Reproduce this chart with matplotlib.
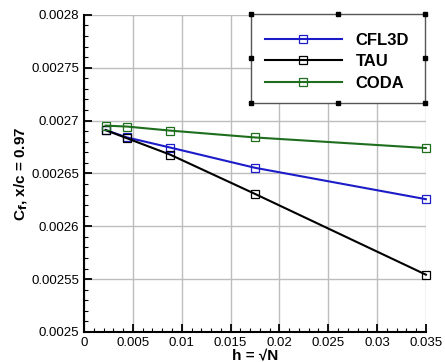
import matplotlib
matplotlib.use("Agg")
import matplotlib.pyplot as plt
from matplotlib.patches import Rectangle
from matplotlib.ticker import MultipleLocator, FuncFormatter

plt.rcParams['font.family'] = ['Liberation Sans', 'DejaVu Sans']

h = [0.0022, 0.0044, 0.0088, 0.0175, 0.035]
cfl3d = [0.002691, 0.002684, 0.0026745, 0.0026553, 0.0026256]
tau = [0.002691, 0.0026832, 0.0026678, 0.0026306, 0.0025542]
coda = [0.0026952, 0.0026943, 0.0026905, 0.002684, 0.002674]

series = [("CFL3D", cfl3d, "#1c1cc8"), ("TAU", tau, "black"), ("CODA", coda, "#1e6e1e")]

fig = plt.figure(figsize=(4.45, 3.62), dpi=100)
ax = fig.add_axes([0.189, 0.083, 0.768, 0.876])

for name, vals, col in series:
    ax.plot(h, vals, color=col, lw=1.5, marker="s", ms=6, mfc="none",
            mec=col, mew=0.9, label=name, clip_on=False, zorder=3)

ax.set_xlim(0, 0.035)
ax.set_ylim(0.0025, 0.0028)
ax.xaxis.set_major_locator(MultipleLocator(0.005))
ax.xaxis.set_minor_locator(MultipleLocator(0.001))
ax.yaxis.set_major_locator(MultipleLocator(0.00005))
ax.yaxis.set_minor_locator(MultipleLocator(0.00001))
fmt = FuncFormatter(lambda v, p: "%g" % round(v, 6))
ax.xaxis.set_major_formatter(fmt)
ax.yaxis.set_major_formatter(fmt)
ax.tick_params(which="both", direction="in", top=False, right=False, labelsize=9.5)
ax.tick_params(which="major", length=6, width=1.3)
ax.tick_params(which="minor", length=3, width=0.8)
ax.grid(True, which="major", color="#bdbdbd", lw=1)
ax.set_axisbelow(True)
for s in ["top", "right"]:
    ax.spines[s].set_visible(False)
for s in ["left", "bottom"]:
    ax.spines[s].set_linewidth(1.5)

ax.set_xlabel("h = \u221aN", fontsize=11, fontweight="bold", labelpad=0)
ax.set_ylabel(r"C$_\mathbf{f}$, x/c = 0.97", fontsize=11, fontweight="bold", labelpad=1)

# legend box with tecplot-like selection handles
x0, x1, y0, y1 = 0.488, 0.997, 0.722, 1.003
ax.add_patch(Rectangle((x0, y0), x1 - x0, y1 - y0, transform=ax.transAxes,
                       fc="white", ec="#555555", lw=1, zorder=5, clip_on=False))
hx = [x0, (x0 + x1) / 2, x1, x0, x1, x0, (x0 + x1) / 2, x1]
hy = [y1, y1, y1, (y0 + y1) / 2, (y0 + y1) / 2, y0, y0, y0]
ax.plot(hx, hy, "s", color="black", ms=2.5, transform=ax.transAxes,
        clip_on=False, zorder=6)
leg = ax.legend(loc="center left", bbox_to_anchor=(0.529, 0.852), frameon=False,
                prop={"weight": "bold", "size": 12}, handlelength=4.6,
                labelspacing=0.4, handletextpad=0.85, borderpad=0,
                borderaxespad=0)
leg.set_zorder(7)

fig.savefig("out.png", dpi=100)
